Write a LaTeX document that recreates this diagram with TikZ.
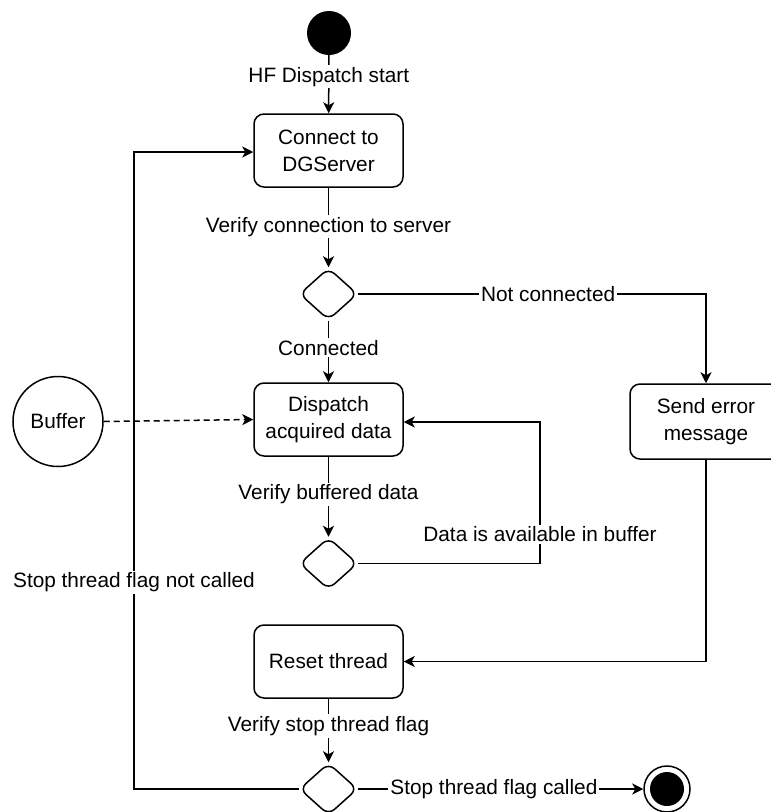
\documentclass[tikz,border=0pt]{standalone}
\usepackage{fontspec}
\setmainfont{Liberation Sans}
\usetikzlibrary{shapes.geometric,arrows.meta}

\begin{document}
\begin{tikzpicture}[x=1pt,y=-1pt,
  every node/.style={font=\fontsize{20.8}{27}\selectfont},
  line/.style={line width=1.5pt, draw=black},
  flow/.style={line, -{Stealth[length=11pt,width=11pt,inset=3pt]}},
  action/.style={line, rectangle, rounded corners=10pt, minimum width=149pt,
    minimum height=73pt, align=center, inner sep=0pt},
  choice/.style={line, diamond, rounded corners=8pt, minimum width=58pt,
    minimum height=52pt, inner sep=0pt},
  lbl/.style={fill=white, inner sep=2pt},
  startst/.style={circle, fill=black, minimum size=44pt, inner sep=0pt},
  endst/.style={line, circle, fill=white, minimum size=46pt, inner sep=0pt},
  store/.style={line, circle, minimum size=90pt, inner sep=0pt}
]
\path[use as bounding box] (0,0) rectangle (771,812);
\clip (0,0) rectangle (771,812);

% nodes
\node[startst] (start) at (329,33) {};
\node[action] (conn) at (328.5,150.5) {Connect to\\DGServer};
\node[choice] (d1) at (328.5,294) {};
\node[action] (disp) at (328.5,419.5) {Dispatch\\acquired data};
\node[action, minimum width=152pt, minimum height=75pt] (send) at (706,421.5) {Send error\\message};
\node[store] (buf) at (58,421.5) {Buffer};
\node[choice] (d2) at (328.5,563.5) {};
\node[action] (reset) at (328.5,661.5) {Reset thread};
\node[choice] (d3) at (328.5,789) {};
\node[endst] (end) at (667,789) {};
\fill (end.center) circle (17);

\coordinate (loopA) at (540,422);
\coordinate (loopB) at (134,152);

% connectors
\draw[flow] (start) -- node[lbl, pos=0.37] {HF Dispatch start} (conn);
\draw[flow] (conn) -- node[lbl, pos=0.49] {Verify connection to server} (d1);
\draw[flow] (d1.east) -| node[lbl, pos=0.273] {Not connected} (send.north);
\draw[flow] (d1.south) -- node[lbl, pos=0.44] {Connected} (disp.north);
\draw[flow, dashed, dash pattern=on 6pt off 4pt] (buf.east) -- (disp.west);
\draw[flow] (disp.south) -- node[lbl, pos=0.47] {Verify buffered data} (d2.north);
\draw[flow] (d2.east) -| node[lbl, pos=0.603] {Data is available in buffer} (loopA) -- (disp.east |- loopA);
\draw[flow] (send.south) |- (reset.east);
\draw[flow] (reset.south) -- node[lbl, pos=0.43] {Verify stop thread flag} (d3.north);
\draw[flow] (d3.west) -| node[lbl, pos=0.662] {Stop thread flag not called} (loopB) -- (conn.west |- loopB);
\draw[flow] (d3.east) -- node[lbl, pos=0.476] {Stop thread flag called} (end.west);
\end{tikzpicture}
\end{document}
